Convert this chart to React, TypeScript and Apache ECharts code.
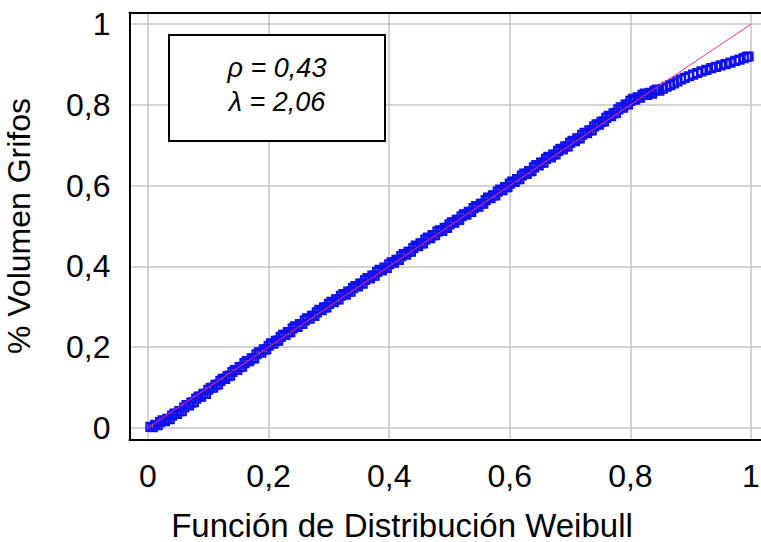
import React, { useEffect, useRef } from "react";
import * as echarts from "echarts";

// Weibull distribution function values (x) vs. cumulative volume fraction (y)
const weibullX = [
  0.004, 0.008, 0.012, 0.016, 0.020, 0.024, 0.028, 0.032, 0.036, 0.040,
  0.044, 0.048, 0.052, 0.056, 0.060, 0.064, 0.068, 0.072, 0.076, 0.080,
  0.084, 0.088, 0.092, 0.096, 0.100, 0.104, 0.108, 0.112, 0.116, 0.120,
  0.124, 0.128, 0.132, 0.136, 0.140, 0.144, 0.148, 0.152, 0.156, 0.160,
  0.164, 0.168, 0.172, 0.176, 0.180, 0.184, 0.188, 0.192, 0.196, 0.200,
  0.204, 0.208, 0.212, 0.216, 0.220, 0.224, 0.228, 0.232, 0.236, 0.240,
  0.244, 0.248, 0.252, 0.256, 0.260, 0.264, 0.268, 0.272, 0.276, 0.280,
  0.284, 0.288, 0.292, 0.296, 0.300, 0.304, 0.308, 0.312, 0.316, 0.320,
  0.324, 0.328, 0.332, 0.336, 0.340, 0.344, 0.348, 0.352, 0.356, 0.360,
  0.364, 0.368, 0.372, 0.376, 0.380, 0.384, 0.388, 0.392, 0.396, 0.400,
  0.404, 0.408, 0.412, 0.416, 0.420, 0.424, 0.428, 0.432, 0.436, 0.440,
  0.444, 0.448, 0.452, 0.456, 0.460, 0.464, 0.468, 0.472, 0.476, 0.480,
  0.484, 0.488, 0.492, 0.496, 0.500, 0.504, 0.508, 0.512, 0.516, 0.520,
  0.524, 0.528, 0.532, 0.536, 0.540, 0.544, 0.548, 0.552, 0.556, 0.560,
  0.564, 0.568, 0.572, 0.576, 0.580, 0.584, 0.588, 0.592, 0.596, 0.600,
  0.604, 0.608, 0.612, 0.616, 0.620, 0.624, 0.628, 0.632, 0.636, 0.640,
  0.644, 0.648, 0.652, 0.656, 0.660, 0.664, 0.668, 0.672, 0.676, 0.680,
  0.684, 0.688, 0.692, 0.696, 0.700, 0.704, 0.708, 0.712, 0.716, 0.720,
  0.724, 0.728, 0.732, 0.736, 0.740, 0.744, 0.748, 0.752, 0.756, 0.760,
  0.764, 0.768, 0.772, 0.776, 0.780, 0.784, 0.788, 0.792, 0.796, 0.800,
  0.804, 0.808, 0.812, 0.816, 0.820, 0.824, 0.828, 0.832, 0.836, 0.840,
  0.844, 0.848,
  0.854, 0.860, 0.866, 0.872, 0.878, 0.884, 0.890, 0.897, 0.904, 0.911,
  0.918, 0.926, 0.934, 0.942, 0.950, 0.958, 0.966, 0.974, 0.981, 0.988,
  0.993, 0.996,
];
const volumenY = [
  0.002, 0.001, 0.007, 0.006, 0.014, 0.018, 0.016, 0.022, 0.021, 0.030,
  0.035, 0.034, 0.041, 0.041, 0.050, 0.056, 0.055, 0.062, 0.063, 0.072,
  0.077, 0.077, 0.084, 0.084, 0.094, 0.099, 0.099, 0.106, 0.107, 0.116,
  0.121, 0.121, 0.128, 0.129, 0.138, 0.143, 0.143, 0.150, 0.151, 0.160,
  0.165, 0.165, 0.172, 0.172, 0.182, 0.187, 0.186, 0.194, 0.194, 0.203,
  0.209, 0.208, 0.215, 0.216, 0.225, 0.230, 0.230, 0.237, 0.237, 0.246,
  0.251, 0.250, 0.257, 0.257, 0.266, 0.271, 0.270, 0.277, 0.277, 0.286,
  0.292, 0.291, 0.298, 0.298, 0.307, 0.312, 0.311, 0.318, 0.318, 0.327,
  0.331, 0.330, 0.337, 0.337, 0.346, 0.351, 0.350, 0.357, 0.357, 0.366,
  0.371, 0.370, 0.377, 0.377, 0.386, 0.391, 0.390, 0.397, 0.396, 0.405,
  0.410, 0.409, 0.416, 0.416, 0.425, 0.430, 0.429, 0.436, 0.436, 0.445,
  0.451, 0.450, 0.457, 0.457, 0.466, 0.471, 0.470, 0.477, 0.477, 0.486,
  0.489, 0.488, 0.495, 0.495, 0.504, 0.509, 0.508, 0.515, 0.515, 0.524,
  0.529, 0.528, 0.535, 0.535, 0.544, 0.549, 0.548, 0.555, 0.555, 0.564,
  0.570, 0.569, 0.576, 0.576, 0.585, 0.590, 0.589, 0.596, 0.596, 0.605,
  0.610, 0.609, 0.616, 0.616, 0.625, 0.630, 0.629, 0.636, 0.636, 0.645,
  0.651, 0.650, 0.657, 0.657, 0.666, 0.671, 0.670, 0.677, 0.677, 0.686,
  0.691, 0.690, 0.697, 0.697, 0.706, 0.711, 0.710, 0.717, 0.717, 0.726,
  0.731, 0.730, 0.737, 0.737, 0.747, 0.752, 0.751, 0.758, 0.759, 0.768,
  0.773, 0.772, 0.779, 0.780, 0.789, 0.794, 0.793, 0.801, 0.801, 0.810,
  0.815, 0.813, 0.819, 0.818, 0.825, 0.828, 0.825, 0.830, 0.828, 0.835,
  0.838, 0.835,
  0.840, 0.845, 0.849, 0.853, 0.858, 0.863, 0.867, 0.871, 0.875, 0.879,
  0.883, 0.887, 0.891, 0.894, 0.898, 0.901, 0.905, 0.909, 0.912, 0.916,
  0.919, 0.920,
];

// Reference (fitted) line
const refLineX = [0, 1];
const refLineY = [0, 1];

// Annotation text
const annotationLines = ["ρ = 0,43", "λ = 2,06"];
const xAxisTitle = "Función de Distribución Weibull";
const yAxisTitle = "% Volumen Grifos";

const FONT = "'Liberation Sans', Arial, sans-serif";

const fmtTick = (v: number): string => {
  const k = Math.round(v * 5);
  if (Math.abs(v * 5 - k) > 1e-6) return "";
  return String(+(k / 5).toFixed(1)).replace(".", ",");
};

export default function App() {
  const ref = useRef<HTMLDivElement>(null);

  useEffect(() => {
    if (!ref.current) return;
    const chart = echarts.init(ref.current, undefined, { renderer: "svg" });

    const scatterData = weibullX.map((x, i) => [x, volumenY[i]]);
    const lineData = refLineX.map((x, i) => [x, refLineY[i]]);

    const frameLine = {
      show: true,
      onZero: false,
      lineStyle: { color: "#000", width: 2 },
    };

    chart.setOption({
      animation: false,
      backgroundColor: "#ffffff",
      grid: {
        left: 129.5,
        right: 0,
        top: 12.5,
        bottom: 102.5,
        containLabel: false,
        outerBoundsMode: "none",
      },
      xAxis: [
        {
          type: "value",
          min: -0.0307,
          max: 1.0166,
          splitNumber: 5,
          axisLine: frameLine,
          axisTick: { show: false },
          axisLabel: {
            formatter: fmtTick,
            fontSize: 32,
            fontFamily: FONT,
            color: "#000",
            margin: 20,
          },
          splitLine: {
            show: true,
            showMinLine: false,
            showMaxLine: false,
            lineStyle: { color: "#c4c4c4", width: 1.5 },
          },
        },
        {
          type: "value",
          position: "top",
          min: -0.0307,
          max: 1.0166,
          axisLine: frameLine,
          axisTick: { show: false },
          axisLabel: { show: false },
          splitLine: { show: false },
        },
      ],
      yAxis: {
        type: "value",
        min: -0.0293,
        max: 1.029,
        splitNumber: 5,
        name: yAxisTitle,
        nameLocation: "middle",
        nameGap: 95,
        nameRotate: 90,
        nameTextStyle: { fontSize: 32, fontFamily: FONT, color: "#000" },
        axisLine: frameLine,
        axisTick: { show: false },
        axisLabel: {
          formatter: fmtTick,
          fontSize: 32,
          fontFamily: FONT,
          color: "#000",
          margin: 19,
        },
        splitLine: {
          show: true,
          showMinLine: false,
          showMaxLine: false,
          lineStyle: { color: "#c4c4c4", width: 1.5 },
        },
      },
      series: [
        {
          type: "scatter",
          data: scatterData,
          symbol: "rect",
          symbolSize: 8,
          itemStyle: {
            color: "rgba(0,0,0,0)",
            borderColor: "#1010ee",
            borderWidth: 2.2,
            opacity: 1,
          },
          z: 2,
          silent: true,
        },
        {
          type: "line",
          data: lineData,
          symbol: "none",
          lineStyle: { color: "#ff2a8c", width: 1 },
          z: 3,
          silent: true,
        },
      ],
      graphic: [
        {
          type: "rect",
          shape: { x: 169, y: 35, width: 216, height: 106 },
          style: { fill: "#ffffff", stroke: "#000000", lineWidth: 2 },
          z: 10,
        },
        {
          type: "text",
          x: 277,
          y: 68,
          style: {
            text: annotationLines[0],
            font: `italic 27px ${FONT}`,
            fill: "#000",
            textAlign: "center",
            textVerticalAlign: "middle",
          },
          z: 11,
        },
        {
          type: "text",
          x: 277,
          y: 102,
          style: {
            text: annotationLines[1],
            font: `italic 27px ${FONT}`,
            fill: "#000",
            textAlign: "center",
            textVerticalAlign: "middle",
          },
          z: 11,
        },
        {
          type: "text",
          x: 402,
          y: 525,
          style: {
            text: xAxisTitle,
            font: `33px ${FONT}`,
            fill: "#000",
            textAlign: "center",
            textVerticalAlign: "middle",
          },
          z: 11,
        },
      ],
    });

    return () => {
      chart.dispose();
    };
  }, []);

  return (
    <div
      ref={ref}
      style={{ position: "fixed", left: 0, top: 0, width: 761, height: 542 }}
    />
  );
}
